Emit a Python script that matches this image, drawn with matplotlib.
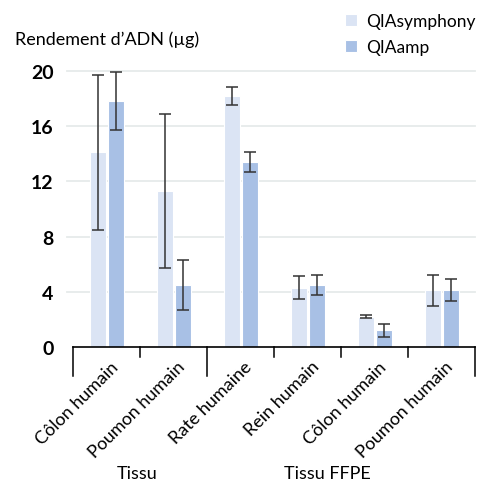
import numpy as np
import matplotlib
matplotlib.use("Agg")
import matplotlib.pyplot as plt

# Données
categories = ["Côlon humain", "Poumon humain", "Rate humaine",
              "Rein humain", "Côlon humain", "Poumon humain"]
symphony = [14.1, 11.3, 18.2, 4.3, 2.2, 4.1]
symphony_err = [5.6, 5.6, 0.65, 0.85, 0.1, 1.1]
qiaamp = [17.8, 4.5, 13.4, 4.5, 1.2, 4.1]
qiaamp_err = [2.1, 1.8, 0.75, 0.75, 0.5, 0.8]
yticks = [0, 4, 8, 12, 16, 20]
groupes = ["Tissu", "Tissu FFPE"]

plt.rcParams['font.family'] = ['Lato', 'DejaVu Sans']

couleur_claire = '#dbe4f4'
couleur_foncee = '#a8c0e5'

fig = plt.figure(figsize=(4.79, 4.81), dpi=100)
ax = fig.add_axes([73 / 479, 1 - 348 / 481, 402 / 479, 276 / 481])

x = np.arange(len(categories))
largeur = 0.245
ax.bar(x - 0.125, symphony, largeur, color=couleur_claire, edgecolor='white',
       linewidth=0.8, zorder=2, label='QIAsymphony')
ax.bar(x + 0.145, qiaamp, largeur, color=couleur_foncee, edgecolor='white',
       linewidth=0.8, zorder=2, label='QIAamp')
ax.errorbar(x - 0.125, symphony, yerr=symphony_err, fmt='none', ecolor='#333333',
            elinewidth=1.1, capsize=4, capthick=1.1, zorder=3, clip_on=False)
ax.errorbar(x + 0.145, qiaamp, yerr=qiaamp_err, fmt='none', ecolor='#333333',
            elinewidth=1.1, capsize=4, capthick=1.1, zorder=3, clip_on=False)

# Grille horizontale légère
for yt in yticks[1:]:
    ax.axhline(yt, xmin=-0.015, xmax=1.0, color='#e6ebea', linewidth=1.3,
               zorder=1, clip_on=False)

ax.set_xlim(-0.5, len(categories) - 0.5)
ax.set_ylim(0, 20)
ax.set_yticks(yticks)
ax.set_yticklabels([str(v) for v in yticks], fontsize=14, fontweight='bold')
ax.tick_params(axis='y', length=0, pad=14)

for s in ['top', 'right', 'left']:
    ax.spines[s].set_visible(False)
ax.spines['bottom'].set_linewidth(1.2)
ax.spines['bottom'].set_zorder(4)

# Graduations : limites de catégories, longues entre groupes
ax.set_xticks([])
bornes = np.arange(len(categories) + 1) - 0.5
for b in bornes:
    longue = b in (-0.5, 1.5, len(categories) - 0.5)
    ax.plot([b, b], [0, -2.1 if longue else -0.75], color='black',
            linewidth=1.1, clip_on=False, zorder=4)

for i, cat in enumerate(categories):
    ax.text(i + 0.05, -0.8, cat, rotation=45, ha='right', va='top',
            rotation_mode='anchor', fontsize=13)

ax.text(0.45, -9.1, groupes[0], ha='center', va='center', fontsize=13)
ax.text(3.3, -9.1, groupes[1], ha='center', va='center', fontsize=13)

fig.text(15 / 479, 1 - 40 / 481, "Rendement d’ADN (µg)", ha='left',
         va='center', fontsize=13)

ax.legend(loc='upper left', bbox_to_anchor=(338 / 479, 1 - 7 / 481),
          bbox_transform=fig.transFigure, frameon=False, fontsize=12.5,
          handlelength=0.7, handleheight=0.7, handletextpad=0.5,
          labelspacing=0.6, borderaxespad=0)

fig.savefig('out.png', dpi=100)
